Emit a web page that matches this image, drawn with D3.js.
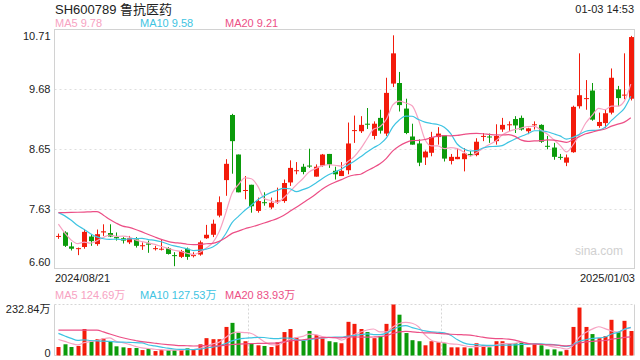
<!DOCTYPE html>
<html>
<head>
<meta charset="utf-8">
<script src="https://cdn.jsdelivr.net/npm/d3@7"></script>
<style>
body { margin: 0; background: #fff; }
text { font-family: "Liberation Sans", Arial, "Noto Sans CJK SC", sans-serif; }
</style>
</head>
<body>
<svg width="640" height="360"></svg>
<script>
// trading days shown
var dates = [
  '2024/08/21','2024/08/22','2024/08/23','2024/08/26','2024/08/27','2024/08/28','2024/08/29','2024/08/30',
  '2024/09/02','2024/09/03','2024/09/04','2024/09/05','2024/09/06','2024/09/09','2024/09/10','2024/09/11',
  '2024/09/12','2024/09/13','2024/09/18','2024/09/19','2024/09/20','2024/09/23','2024/09/24','2024/09/25',
  '2024/09/26','2024/09/27','2024/09/30','2024/10/08','2024/10/09','2024/10/10','2024/10/11','2024/10/14',
  '2024/10/15','2024/10/16','2024/10/17','2024/10/18','2024/10/21','2024/10/22','2024/10/23','2024/10/24',
  '2024/10/25','2024/10/28','2024/10/29','2024/10/30','2024/10/31','2024/11/01','2024/11/04','2024/11/05',
  '2024/11/06','2024/11/07','2024/11/08','2024/11/11','2024/11/12','2024/11/13','2024/11/14','2024/11/15',
  '2024/11/18','2024/11/19','2024/11/20','2024/11/21','2024/11/22','2024/11/25','2024/11/26','2024/11/27',
  '2024/11/28','2024/11/29','2024/12/02','2024/12/03','2024/12/04','2024/12/05','2024/12/06','2024/12/09',
  '2024/12/10','2024/12/11','2024/12/12','2024/12/13','2024/12/16','2024/12/17','2024/12/18','2024/12/19',
  '2024/12/20','2024/12/23','2024/12/24','2024/12/25','2024/12/26','2024/12/27','2024/12/30','2024/12/31',
  '2025/01/02','2025/01/03'
];

var opens = [
  7.15,7.22,6.98,6.94,6.97,7.15,7.02,7.22,7.21,7.14,7.12,7.05,7.10,6.99,7.03,6.94,6.93,6.95,6.83,6.80,
  6.94,6.82,6.84,7.12,7.18,7.51,8.12,9.24,8.56,7.94,8.04,7.59,7.74,7.65,7.76,7.76,8.08,8.28,8.35,8.37,
  8.18,8.37,8.57,8.28,8.19,8.29,8.97,8.96,9.09,8.88,9.19,8.92,9.78,9.79,9.35,8.87,8.75,8.51,8.59,8.86,
  8.89,8.45,8.48,8.48,8.57,8.55,8.87,8.87,8.79,8.99,9.07,9.17,9.19,8.96,9.07,9.07,8.71,8.68,8.52,8.42,
  8.60,9.39,9.52,9.66,9.05,9.10,9.28,9.68,9.58,9.52
];
var highs = [
  7.20,7.24,7.05,6.96,7.28,7.19,7.27,7.36,7.36,7.22,7.14,7.16,7.14,7.05,7.08,6.99,7.09,6.97,6.88,6.92,
  6.96,6.88,7.08,7.35,7.44,7.84,8.48,9.26,8.56,8.19,8.04,7.82,7.91,7.82,7.99,8.13,8.46,8.43,8.40,8.66,
  8.39,8.57,8.57,8.35,8.43,9.11,9.23,9.22,9.36,9.13,9.33,9.88,10.61,9.98,9.52,9.09,8.82,8.63,8.95,9.03,
  8.89,8.57,8.67,8.67,8.62,8.84,8.93,8.92,9.08,9.19,9.13,9.22,9.23,9.02,9.13,9.08,8.88,8.76,8.57,8.56,
  9.40,10.30,9.84,9.79,9.28,9.34,10.04,9.74,10.30,10.60
];
var lows = [
  7.11,6.97,6.91,6.83,6.94,6.99,6.99,7.16,7.14,7.08,7.03,7.02,6.96,6.92,6.87,6.91,6.91,6.84,6.64,6.78,
  6.75,6.79,6.82,7.11,7.14,7.48,7.85,8.23,7.91,7.79,7.56,7.56,7.68,7.62,7.71,7.73,8.02,8.22,8.22,8.33,
  8.18,8.35,8.33,8.13,8.19,8.22,8.76,8.93,9.00,8.82,8.92,8.88,9.72,9.30,8.91,8.73,8.36,8.38,8.53,8.73,
  8.44,8.39,8.48,8.27,8.53,8.53,8.79,8.76,8.73,8.95,8.96,8.93,8.97,8.91,8.99,8.76,8.65,8.47,8.47,8.36,
  8.59,9.35,9.33,9.14,9.02,9.02,9.25,9.39,9.51,9.49
];
var closes = [
  7.16,6.99,6.94,6.95,7.23,7.07,7.19,7.24,7.15,7.12,7.08,7.12,6.99,7.00,7.01,6.95,6.94,6.85,6.82,6.90,
  6.80,6.83,7.05,7.18,7.37,7.74,8.40,8.79,7.91,7.95,7.67,7.76,7.73,7.73,7.77,8.07,8.33,8.29,8.26,8.36,
  8.35,8.56,8.39,8.22,8.28,8.75,8.98,9.07,9.08,9.09,8.97,9.62,10.30,9.41,8.93,8.73,8.42,8.61,8.86,8.92,
  8.49,8.52,8.52,8.58,8.56,8.78,8.88,8.86,8.88,9.07,9.08,9.06,8.99,9.01,9.08,8.78,8.70,8.52,8.51,8.51,
  9.38,9.58,9.53,9.16,9.12,9.27,9.88,9.53,9.59,10.58
];
// volume in 万 shares
var volumes = [
  38.8,51.2,38.8,43.5,121.0,65.2,74.5,77.6,62.1,41.9,37.3,34.1,34.1,24.8,29.5,20.2,24.8,24.8,24.8,27.9,
  32.6,26.4,51.2,79.2,74.5,74.5,130.4,149.0,104.0,65.2,54.3,46.6,43.5,38.8,60.5,107.0,121.0,82.3,66.7,111.8,
  93.0,77.6,65.2,60.5,55.9,153.7,144.4,121.0,107.0,79.2,88.5,144.4,232.84,186.3,102.5,69.9,65.2,46.6,65.2,60.5,
  55.9,37.3,37.3,37.3,32.6,55.9,46.6,37.3,65.2,65.2,55.9,55.9,60.5,37.3,55.9,46.6,27.9,27.9,18.6,24.8,
  130.4,218.9,130.4,97.8,79.2,88.5,163.0,107.0,158.3,111.8
];
// the 19 sessions before the window, only used for the moving averages
var priorCloses = [6.95,6.90,6.90,7.15,7.00,7.10,8.50,8.60,8.40,8.10,7.55,7.70,7.85,7.90,7.80,7.75,7.55,7.25,7.10];
var priorVolumes = [50,40,45,120,65,75,240,260,220,195,170,150,133,100,92,95,85,76,70];

var priceTicks = [6.60, 7.63, 8.65, 9.68, 10.71];
var volumeTicks = [0, 232.84];
var maPeriods = [5, 10, 20];
var maColors = ['#f7a2c2', '#3ec4e2', '#ec4f86'];
var priceMaLabels = ['MA5 9.78', 'MA10 9.58', 'MA20 9.21'];
var volumeMaLabels = ['MA5 124.69万', 'MA10 127.53万', 'MA20 83.93万'];

var upColor = '#f31b0b';
var downColor = '#0b9b0b';

var svg = d3.select('svg');

var left = 54.5, right = 634.5;
var priceTop = 29.5, priceBottom = 268.5;
var volTop = 304.5, volBottom = 355.5;

var x = d3.scaleBand().domain(dates).range([55.2, 634]);
var step = x.step();
function cx(d) { return x(d) + step / 2; }

var y = d3.scaleLinear().domain([6.60, 10.71]).range([priceBottom, priceTop]);
var yv = d3.scaleLinear().domain([0, 232.84]).range([volBottom, volTop]);

function movingAvg(prior, vals, n) {
    var all = prior.concat(vals);
    var off = prior.length;
    return vals.map(function(v, i) {
        return d3.mean(all.slice(off + i - n + 1, off + i + 1));
    });
}

// header texts
svg.append('text').attr('x', 55).attr('y', 14)
    .style('font-size', '13px').attr('fill', '#222')
    .text('SH600789 鲁抗医药');
svg.append('text').attr('x', 634).attr('y', 13)
    .attr('text-anchor', 'end').style('font-size', '11px').attr('fill', '#222')
    .text('01-03 14:53');

priceMaLabels.forEach(function(t, k) {
    svg.append('text').attr('x', 55 + k * 85).attr('y', 27)
        .style('font-size', '11px').attr('fill', maColors[k]).text(t);
});
volumeMaLabels.forEach(function(t, k) {
    svg.append('text').attr('x', 55 + k * 85).attr('y', 299)
        .style('font-size', '11px').attr('fill', maColors[k]).text(t);
});

// ---- price panel ----
var gridG = svg.append('g');
gridG.selectAll('line').data(priceTicks.slice(1, -1)).enter().append('line')
    .attr('x1', left).attr('x2', right)
    .attr('y1', function(d) { return Math.round(y(d)) + 0.5; })
    .attr('y2', function(d) { return Math.round(y(d)) + 0.5; })
    .attr('stroke', '#dedede').attr('stroke-dasharray', '2,3');

svg.append('rect')
    .attr('x', left).attr('y', priceTop)
    .attr('width', right - left).attr('height', priceBottom - priceTop)
    .attr('fill', 'none').attr('stroke', '#d2d2d2');

var yAxis = svg.append('g')
    .attr('transform', 'translate(' + left + ',0)')
    .call(d3.axisLeft(y).tickValues(priceTicks).tickSize(0).tickPadding(4).tickFormat(d3.format('.2f')));
yAxis.select('.domain').remove();
yAxis.selectAll('text').style('font-size', '11px').attr('fill', '#222')
    .attr('font-family', null)
    .attr('dy', function(d) { return d === 10.71 ? '0.95em' : (d === 6.60 ? '-0.3em' : '0.32em'); });

svg.append('text').attr('x', 623).attr('y', 255)
    .attr('text-anchor', 'end').style('font-size', '12px').attr('fill', '#d0d0d0')
    .text('sina.com');

var candles = svg.append('g').selectAll('g').data(dates).enter().append('g');
candles.append('line')
    .attr('x1', function(d) { return Math.round(cx(d)) + 0.5; })
    .attr('x2', function(d) { return Math.round(cx(d)) + 0.5; })
    .attr('y1', function(d, i) { return y(highs[i]); })
    .attr('y2', function(d, i) { return y(lows[i]); })
    .attr('stroke', function(d, i) { return closes[i] >= opens[i] ? upColor : downColor; });
candles.append('rect')
    .attr('x', function(d) { return Math.round(cx(d)) + 0.5 - 2.5; })
    .attr('width', 5)
    .attr('y', function(d, i) { return y(Math.max(opens[i], closes[i])); })
    .attr('height', function(d, i) { return Math.max(1, Math.abs(y(opens[i]) - y(closes[i]))); })
    .attr('fill', function(d, i) { return closes[i] >= opens[i] ? upColor : downColor; });

var priceLine = d3.line().x(function(d, i) { return cx(dates[i]); }).y(function(d) { return y(d); }).curve(d3.curveMonotoneX);
maPeriods.forEach(function(n, k) {
    svg.append('path').datum(movingAvg(priorCloses, closes, n))
        .attr('d', priceLine).attr('fill', 'none')
        .attr('stroke', maColors[k]).attr('stroke-width', 1.2);
});

svg.append('text').attr('x', 55).attr('y', 282)
    .style('font-size', '11px').attr('fill', '#222').text(dates[0]);
svg.append('text').attr('x', 635).attr('y', 282).attr('text-anchor', 'end')
    .style('font-size', '11px').attr('fill', '#222').text(dates[dates.length - 1]);

// ---- volume panel ----
[volTop, volBottom].forEach(function(yy) {
    svg.append('line').attr('x1', left).attr('x2', right).attr('y1', yy).attr('y2', yy)
        .attr('stroke', '#d6d6d6').attr('stroke-dasharray', '2,2');
});
[30, 60].forEach(function(k) {
    var xx = Math.round(x(dates[k])) + 0.5;
    svg.append('line').attr('x1', xx).attr('x2', xx).attr('y1', volTop).attr('y2', volBottom)
        .attr('stroke', '#d6d6d6').attr('stroke-dasharray', '2,2');
});
[left, right].forEach(function(xx) {
    svg.append('line').attr('x1', xx).attr('x2', xx).attr('y1', volTop).attr('y2', volBottom)
        .attr('stroke', '#d2d2d2');
});

var vAxis = svg.append('g')
    .attr('transform', 'translate(' + left + ',0)')
    .call(d3.axisLeft(yv).tickValues(volumeTicks).tickSize(0).tickPadding(4)
        .tickFormat(function(d) { return d === 0 ? '0' : d.toFixed(2) + '万'; }));
vAxis.select('.domain').remove();
vAxis.selectAll('text').style('font-size', '11px').attr('fill', '#222')
    .attr('font-family', null)
    .attr('dy', function(d) { return d === 0 ? '0.1em' : '0.75em'; });

svg.append('g').selectAll('rect').data(dates).enter().append('rect')
    .attr('x', function(d) { return Math.round(cx(d)) + 0.5 - 2; })
    .attr('width', 4)
    .attr('y', function(d, i) { return yv(volumes[i]); })
    .attr('height', function(d, i) { return volBottom - yv(volumes[i]); })
    .attr('fill', function(d, i) { return closes[i] >= opens[i] ? upColor : downColor; });

var volLine = d3.line().x(function(d, i) { return cx(dates[i]); }).y(function(d) { return yv(d); }).curve(d3.curveMonotoneX);
maPeriods.forEach(function(n, k) {
    svg.append('path').datum(movingAvg(priorVolumes, volumes, n))
        .attr('d', volLine).attr('fill', 'none')
        .attr('stroke', maColors[k]).attr('stroke-width', 1.2);
});
</script>
</body>
</html>
